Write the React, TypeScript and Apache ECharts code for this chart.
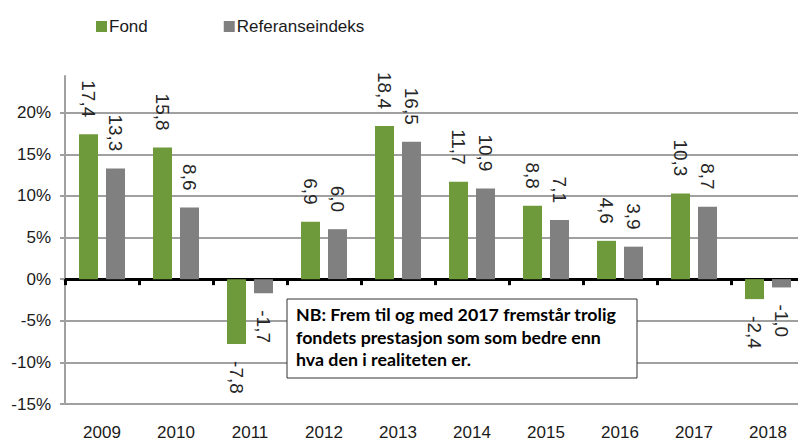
import React, { useEffect, useRef } from "react";
import * as echarts from "echarts";

const years = ["2009", "2010", "2011", "2012", "2013", "2014", "2015", "2016", "2017", "2018"];
const fond = [17.4, 15.8, -7.8, 6.9, 18.4, 11.7, 8.8, 4.6, 10.3, -2.4];
const referanse = [13.3, 8.6, -1.7, 6.0, 16.5, 10.9, 7.1, 3.9, 8.7, -1.0];
const seriesNames = ["Fond", "Referanseindeks"];
const noteLines = [
  "NB: Frem til og med 2017 fremstår trolig",
  "fondets prestasjon som som bedre enn",
  "hva den i realiteten er.",
];

const GREEN = "#6f9a3b";
const GRAY = "#808080";
const FONT = "'Liberation Sans', Arial, sans-serif";

function toItems(values: number[]) {
  return values.map((v) => ({
    value: v,
    label: v < 0 ? { position: "bottom", align: "left" } : { position: "top", align: "right" },
  }));
}

export default function App() {
  const ref = useRef<HTMLDivElement>(null);
  useEffect(() => {
    if (!ref.current) return;
    const chart = echarts.init(ref.current, null, { renderer: "svg" });
    const labelBase = {
      show: true,
      rotate: -90,
      verticalAlign: "middle",
      distance: 17,
      fontFamily: FONT,
      fontSize: 19,
      color: "#262626",
      formatter: (p: any) => Number(p.value).toFixed(1).replace(".", ","),
    };
    chart.setOption({
      animation: false,
      backgroundColor: "#ffffff",
      legend: {
        left: 96,
        top: 18,
        padding: 0,
        itemWidth: 11,
        itemHeight: 11,
        itemGap: 76,
        icon: "rect",
        textStyle: { fontFamily: FONT, fontSize: 17, color: "#1a1a1a", padding: [0, 0, 0, -3] },
        data: seriesNames,
      },
      grid: { left: 65, right: -7, top: 76, bottom: 38, outerBoundsMode: "none" },
      xAxis: [
        {
          type: "category",
          data: years,
          position: "bottom",
          axisLine: { show: false, onZero: false },
          axisTick: { show: false },
          splitLine: { show: false },
          axisLabel: { margin: 20, fontFamily: FONT, fontSize: 17, color: "#1a1a1a" },
        },
        {
          type: "category",
          data: years,
          position: "top",
          axisLine: { show: true, onZero: true, lineStyle: { color: "#000000", width: 3 } },
          axisTick: { show: true, inside: true, length: 6, lineStyle: { color: "#000000", width: 3 } },
          axisLabel: { show: false },
          splitLine: { show: false },
        },
      ],
      yAxis: {
        type: "value",
        min: -15,
        max: 24.4,
        interval: 5,
        axisLine: { show: true, lineStyle: { color: "#a0a0a0", width: 2 } },
        axisTick: { show: true, length: 5, lineStyle: { color: "#a0a0a0", width: 2 } },
        splitLine: { show: true, showMaxLine: false, lineStyle: { color: "#a0a0a0", width: 2 } },
        axisLabel: {
          margin: 14,
          fontFamily: FONT,
          fontSize: 17,
          color: "#1a1a1a",
          formatter: (v: number) => (Math.abs(v % 5) < 1e-9 ? `${v}%` : ""),
          showMaxLabel: false,
        },
      },
      series: [
        {
          name: seriesNames[0],
          type: "bar",
          xAxisIndex: 0,
          data: toItems(fond),
          barWidth: 19,
          barGap: "42%",
          itemStyle: { color: GREEN },
          label: labelBase,
        },
        {
          name: seriesNames[1],
          type: "bar",
          xAxisIndex: 0,
          data: toItems(referanse),
          barWidth: 19,
          barGap: "42%",
          itemStyle: { color: GRAY },
          label: labelBase,
        },
      ],
      graphic: [
        {
          type: "rect",
          z: 100,
          shape: { x: 287, y: 299, width: 350, height: 79 },
          style: { fill: "#ffffff", stroke: "#333333", lineWidth: 1 },
        },
        {
          type: "text",
          z: 101,
          x: 296,
          y: 303,
          style: {
            text: noteLines.join("\n"),
            font: "bold 17.8px Lato, 'Open Sans', sans-serif",
            lineHeight: 22.5,
            fill: "#000000",
          },
        },
      ],
    });
    return () => chart.dispose();
  }, []);
  return (
    <div
      ref={ref}
      style={{ position: "fixed", left: 0, top: 0, width: 798, height: 442, background: "#fff" }}
    />
  );
}
